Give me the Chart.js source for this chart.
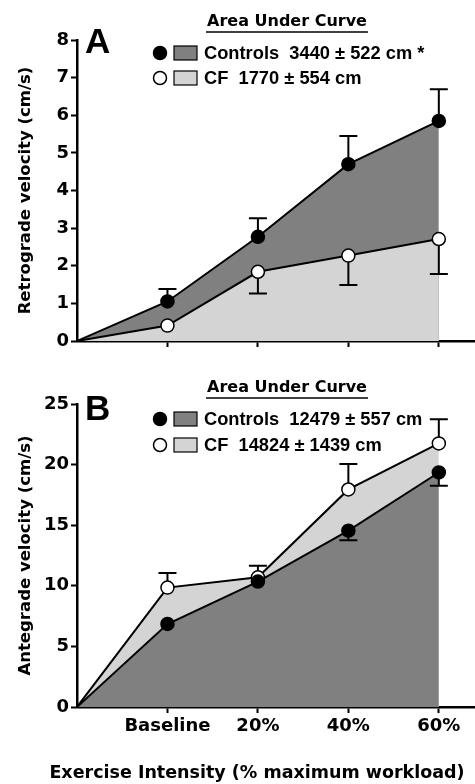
<!DOCTYPE html>
<html>
<head>
<meta charset="utf-8">
<script src="https://cdn.jsdelivr.net/npm/chart.js@4"></script>
<style>
  html, body { margin: 0; padding: 0; background: #fff; }
  #wrap { position: relative; width: 475px; height: 784px; }
  canvas { position: absolute; left: 0; }
</style>
</head>
<body>
<div id="wrap">
  <canvas id="chartA" width="475" height="360" style="top:0"></canvas>
  <canvas id="chartB" width="475" height="424" style="top:360px"></canvas>
</div>
<script>
// categories on the x axis (the curves start from 0,0 before Baseline)
const categories = ['Baseline', '20%', '40%', '60%'];

// panel A - retrograde velocity (cm/s), mean and SEM
const retroControls = [1.05, 2.77, 4.70, 5.85];
const retroControlsErr = [0.33, 0.49, 0.75, 0.84];
const retroCF = [0.41, 1.84, 2.27, 2.71];
const retroCFErr = [0, 0.58, 0.78, 0.93];
const retroTicks = [0, 1, 2, 3, 4, 5, 6, 7, 8];

// panel B - antegrade velocity (cm/s)
const anteControls = [6.85, 10.35, 14.55, 19.35];
const anteControlsErr = [0, 0, 0.8, 1.1];
const anteCF = [9.85, 10.7, 17.95, 21.75];
const anteCFErr = [1.2, 0.95, 2.1, 2.0];
const anteTicks = [0, 5, 10, 15, 20, 25];

const legendTitle = 'Area Under Curve';
const retroLegend = ['Controls  3440 \u00b1 522 cm *', 'CF  1770 \u00b1 554 cm'];
const anteLegend = ['Controls  12479 \u00b1 557 cm', 'CF  14824 \u00b1 1439 cm'];
const retroTitle = 'Retrograde velocity (cm/s)';
const anteTitle = 'Antegrade velocity (cm/s)';
const xTitle = 'Exercise Intensity (% maximum workload)';

const DARK = '#808080';
const LIGHT = '#d4d4d4';
const AXIS_FONT = "'DejaVu Sans', sans-serif";
const LEG_FONT = "'Liberation Sans', Arial, sans-serif";

function toPoints(vals) {
    // first point is the origin, then one point per category
    return [{ x: 0, y: 0 }].concat(vals.map((v, i) => ({ x: i + 1, y: v })));
}

// error bars, drawn one way only (up or down), under the markers
const errorBars = {
    id: 'errorBars',
    beforeDatasetsDraw(chart) {
        const ctx = chart.ctx;
        const xs = chart.scales.x, ys = chart.scales.y;
        ctx.save();
        ctx.strokeStyle = '#000';
        ctx.lineWidth = 2;
        chart.data.datasets.forEach(ds => {
            ds.errors.forEach((e, i) => {
                if (!e) return;
                const v = ds.data[i + 1].y;
                const px = xs.getPixelForValue(i + 1);
                const y0 = ys.getPixelForValue(v);
                const y1 = ys.getPixelForValue(v + ds.errDir * e);
                ctx.beginPath();
                ctx.moveTo(px, y0);
                ctx.lineTo(px, y1);
                ctx.moveTo(px - 9, y1);
                ctx.lineTo(px + 9, y1);
                ctx.stroke();
            });
        });
        ctx.restore();
    }
};

function makePanel(id, cfg) {
    const ctx = document.getElementById(id).getContext('2d');

    const legendPlugin = {
        id: 'aucLegend',
        afterDraw(chart) {
            const c = chart.ctx;
            c.save();
            c.fillStyle = '#000';
            // panel letter
            c.font = 'bold 35px ' + LEG_FONT;
            c.textAlign = 'left';
            c.textBaseline = 'middle';
            c.fillText(cfg.letter, 85, cfg.letterY);
            // legend title, underlined
            c.font = 'bold 16px ' + AXIS_FONT;
            c.textAlign = 'center';
            c.fillText(legendTitle, 287, cfg.legTitleY);
            const w = c.measureText(legendTitle).width;
            c.lineWidth = 1.5;
            c.strokeStyle = '#000';
            c.beginPath();
            c.moveTo(287 - w / 2 - 1, cfg.legTitleY + 10);
            c.lineTo(287 + w / 2 + 1, cfg.legTitleY + 10);
            c.stroke();
            // x axis title sits under the whole figure, not just the plot area
            if (cfg.showX) {
                c.font = 'bold 17.5px ' + AXIS_FONT;
                c.fillText(xTitle, 257, chart.height - 11);
            }
            // entries
            c.font = 'bold 18.3px ' + LEG_FONT;
            c.textAlign = 'left';
            cfg.legend.forEach((txt, i) => {
                const y = cfg.legRowY[i];
                c.beginPath();
                c.arc(160, y, 6.5, 0, Math.PI * 2);
                c.fillStyle = i === 0 ? '#000' : '#fff';
                c.fill();
                c.lineWidth = 1.5;
                c.stroke();
                c.fillStyle = i === 0 ? DARK : LIGHT;
                c.fillRect(174, y - 7, 23, 14);
                c.lineWidth = 1.2;
                c.strokeRect(174, y - 7, 23, 14);
                c.fillStyle = '#000';
                c.fillText(txt, 204, y + 1);
            });
            c.restore();
        }
    };

    const controls = {
        label: 'Controls',
        data: toPoints(cfg.controls),
        errors: cfg.controlsErr,
        errDir: cfg.controlsDir,
        borderColor: '#000',
        borderWidth: 2,
        backgroundColor: DARK,
        fill: 'origin',
        tension: 0,
        pointRadius: [0, 6.5, 6.5, 6.5, 6.5],
        pointBackgroundColor: '#000',
        pointBorderColor: '#000',
        pointBorderWidth: 1.5
    };
    const cf = {
        label: 'CF',
        data: toPoints(cfg.cf),
        errors: cfg.cfErr,
        errDir: cfg.cfDir,
        borderColor: '#000',
        borderWidth: 2,
        backgroundColor: LIGHT,
        fill: 'origin',
        tension: 0,
        pointRadius: [0, 6.5, 6.5, 6.5, 6.5],
        pointBackgroundColor: '#fff',
        pointBorderColor: '#000',
        pointBorderWidth: 1.5
    };
    // dataset 0 ends up on top
    const datasets = cfg.cfOnTop ? [cf, controls] : [controls, cf];

    return new Chart(ctx, {
        type: 'line',
        data: { datasets: datasets },
        options: {
            responsive: false,
            animation: false,
            events: [],
            layout: { autoPadding: false, padding: { top: cfg.padTop, left: 0, right: 0, bottom: 0 } },
            plugins: {
                legend: { display: false },
                tooltip: { enabled: false },
                filler: { drawTime: 'beforeDatasetsDraw' }
            },
            scales: {
                x: {
                    type: 'linear',
                    min: 0,
                    max: 4.4,
                    afterBuildTicks: s => { s.ticks = categories.map((c, i) => ({ value: i + 1 })); },
                    afterFit: s => { s.height = cfg.xHeight; },
                    ticks: {
                        autoSkip: false,
                        maxRotation: 0,
                        padding: 3,
                        color: '#000',
                        font: { family: AXIS_FONT, size: 18, weight: 'bold' },
                        callback: v => cfg.showX ? categories[v - 1] : ''
                    },
                    grid: {
                        drawOnChartArea: false,
                        drawTicks: true,
                        tickLength: 6,
                        tickWidth: 2,
                        tickColor: '#000'
                    },
                    border: { color: '#000', width: 2.5 }
                },
                y: {
                    min: 0,
                    max: cfg.ticks[cfg.ticks.length - 1],
                    afterBuildTicks: s => { s.ticks = cfg.ticks.map(v => ({ value: v })); },
                    afterFit: s => { s.width = 77; },
                    ticks: {
                        padding: 2,
                        color: '#000',
                        font: { family: AXIS_FONT, size: 18, weight: 'bold' }
                    },
                    grid: {
                        drawOnChartArea: false,
                        drawTicks: true,
                        tickLength: 6,
                        tickWidth: 2,
                        tickColor: '#000'
                    },
                    border: { color: '#000', width: 2.5 },
                    title: {
                        display: true,
                        text: cfg.yTitle,
                        color: '#000',
                        padding: { top: 16, bottom: 0 },
                        font: { family: AXIS_FONT, size: 16.5, weight: 'bold' }
                    }
                }
            }
        },
        plugins: [errorBars, legendPlugin]
    });
}

makePanel('chartA', {
    letter: 'A', letterY: 43,
    legTitleY: 22, legRowY: [53, 78], legend: retroLegend,
    controls: retroControls, controlsErr: retroControlsErr, controlsDir: 1,
    cf: retroCF, cfErr: retroCFErr, cfDir: -1,
    cfOnTop: true,
    ticks: retroTicks, yTitle: retroTitle,
    padTop: 40, xHeight: 19, showX: false
});

makePanel('chartB', {
    letter: 'B', letterY: 50,
    legTitleY: 28, legRowY: [59, 85], legend: anteLegend,
    controls: anteControls, controlsErr: anteControlsErr, controlsDir: -1,
    cf: anteCF, cfErr: anteCFErr, cfDir: 1,
    cfOnTop: false,
    ticks: anteTicks, yTitle: anteTitle,
    padTop: 44, xHeight: 77, showX: true
});
</script>
</body>
</html>
